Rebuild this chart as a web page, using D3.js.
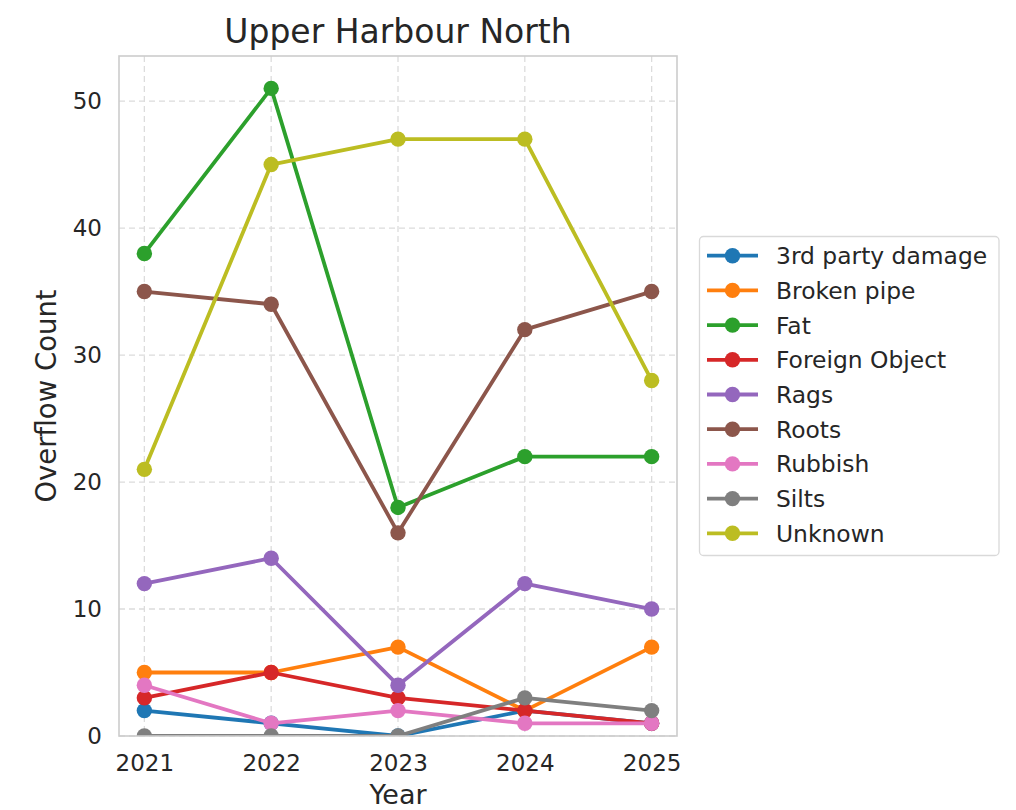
<!DOCTYPE html>
<html><head><meta charset="utf-8">
<script src="https://cdn.jsdelivr.net/npm/d3@7"></script>
<style>body{margin:0;background:#fff;} text{font-family:"DejaVu Sans",sans-serif;fill:#262626;}</style>
</head><body>
<svg id="chart" width="1016" height="810"></svg>
<script>
const years = [2021, 2022, 2023, 2024, 2025];
const categories = ["3rd party damage","Broken pipe","Fat","Foreign Object","Rags","Roots","Rubbish","Silts","Unknown"];
const thirdParty = [2, 1, 0, 2, 1];
const brokenPipe = [5, 5, 7, 2, 7];
const fat = [38, 51, 18, 22, 22];
const foreignObject = [3, 5, 3, 2, 1];
const rags = [12, 14, 4, 12, 10];
const roots = [35, 34, 16, 32, 35];
const rubbish = [4, 1, 2, 1, 1];
const silts = [0, 0, 0, 3, 2];
const unknown = [21, 45, 47, 47, 28];
const yTicks = [0, 10, 20, 30, 40, 50];
const colors = ["#1f77b4","#ff7f0e","#2ca02c","#d62728","#9467bd","#8c564b","#e377c2","#7f7f7f","#bcbd22"];
const seriesValues = [thirdParty, brokenPipe, fat, foreignObject, rags, roots, rubbish, silts, unknown];
const series = categories.map((c,i)=>({name:c, values:seriesValues[i], color:colors[i]}));

const svg = d3.select("#chart");
const L=119, R=677, T=56, B=736;
const x = d3.scaleLinear().domain([2020.8, 2025.2]).range([L, R]);
const y = d3.scaleLinear().domain([0, 53.55]).range([B, T]);

svg.append("defs").append("clipPath").attr("id","clip")
  .append("rect").attr("x",L).attr("y",T).attr("width",R-L).attr("height",B-T);

// grid
const grid = svg.append("g");
grid.selectAll(".gx").data(years).enter().append("line")
  .attr("x1",d=>x(d)).attr("x2",d=>x(d)).attr("y1",T).attr("y2",B)
  .attr("stroke","#dcdcdc").attr("stroke-width",1.3).attr("stroke-dasharray","6,4");
grid.selectAll(".gy").data(yTicks).enter().append("line")
  .attr("x1",L).attr("x2",R).attr("y1",d=>y(d)).attr("y2",d=>y(d))
  .attr("stroke","#dcdcdc").attr("stroke-width",1.3).attr("stroke-dasharray","6,4");

// axes via d3
const xAxis = svg.append("g").attr("transform",`translate(0,${B})`)
  .call(d3.axisBottom(x).tickValues(years).tickFormat(d3.format("d")).tickSize(0).tickPadding(19));
const yAxis = svg.append("g").attr("transform",`translate(${L},0)`)
  .call(d3.axisLeft(y).tickValues(yTicks).tickSize(0).tickPadding(17));
[xAxis,yAxis].forEach(a=>{
  a.select(".domain").remove();
  a.selectAll("text").attr("font-size",23).attr("fill","#262626").attr("font-family","DejaVu Sans");
});

// lines
const line = d3.line().x((d,i)=>x(years[i])).y(d=>y(d));
const plot = svg.append("g").attr("clip-path","url(#clip)");
series.forEach(s=>{
  const g = plot.append("g");
  g.append("path").attr("d",line(s.values)).attr("fill","none")
    .attr("stroke",s.color).attr("stroke-width",3.8).attr("stroke-linejoin","round");
  g.selectAll("circle").data(s.values).enter().append("circle")
    .attr("cx",(d,i)=>x(years[i])).attr("cy",d=>y(d)).attr("r",7.7).attr("fill",s.color);
});

// frame
svg.append("rect").attr("x",L).attr("y",T).attr("width",R-L).attr("height",B-T)
  .attr("fill","none").attr("stroke","#cccccc").attr("stroke-width",1.6);

// title & labels
svg.append("text").attr("x",(L+R)/2).attr("y",43).attr("text-anchor","middle")
  .attr("font-size",33).text("Upper Harbour North");
svg.append("text").attr("x",(L+R)/2).attr("y",803.5).attr("text-anchor","middle")
  .attr("font-size",27).text("Year");
svg.append("text").attr("transform",`translate(56,${(T+B)/2}) rotate(-90)`).attr("text-anchor","middle")
  .attr("font-size",27.5).text("Overflow Count");

// legend
const lg = svg.append("g");
lg.append("rect").attr("x",699.5).attr("y",236.5).attr("width",299.5).attr("height",319).attr("rx",4)
  .attr("fill","#fff").attr("stroke","#d9d9d9").attr("stroke-width",1.3);
const ls = d3.scalePoint().domain(categories).range([255.7, 533.3]);
series.forEach(s=>{
  const cy = ls(s.name);
  lg.append("line").attr("x1",707).attr("x2",758).attr("y1",cy).attr("y2",cy)
    .attr("stroke",s.color).attr("stroke-width",3.8);
  lg.append("circle").attr("cx",732.5).attr("cy",cy).attr("r",7.7).attr("fill",s.color);
  lg.append("text").attr("x",776).attr("y",cy).attr("dy","0.36em").attr("font-size",23.4).text(s.name);
});
</script>
</body></html>
